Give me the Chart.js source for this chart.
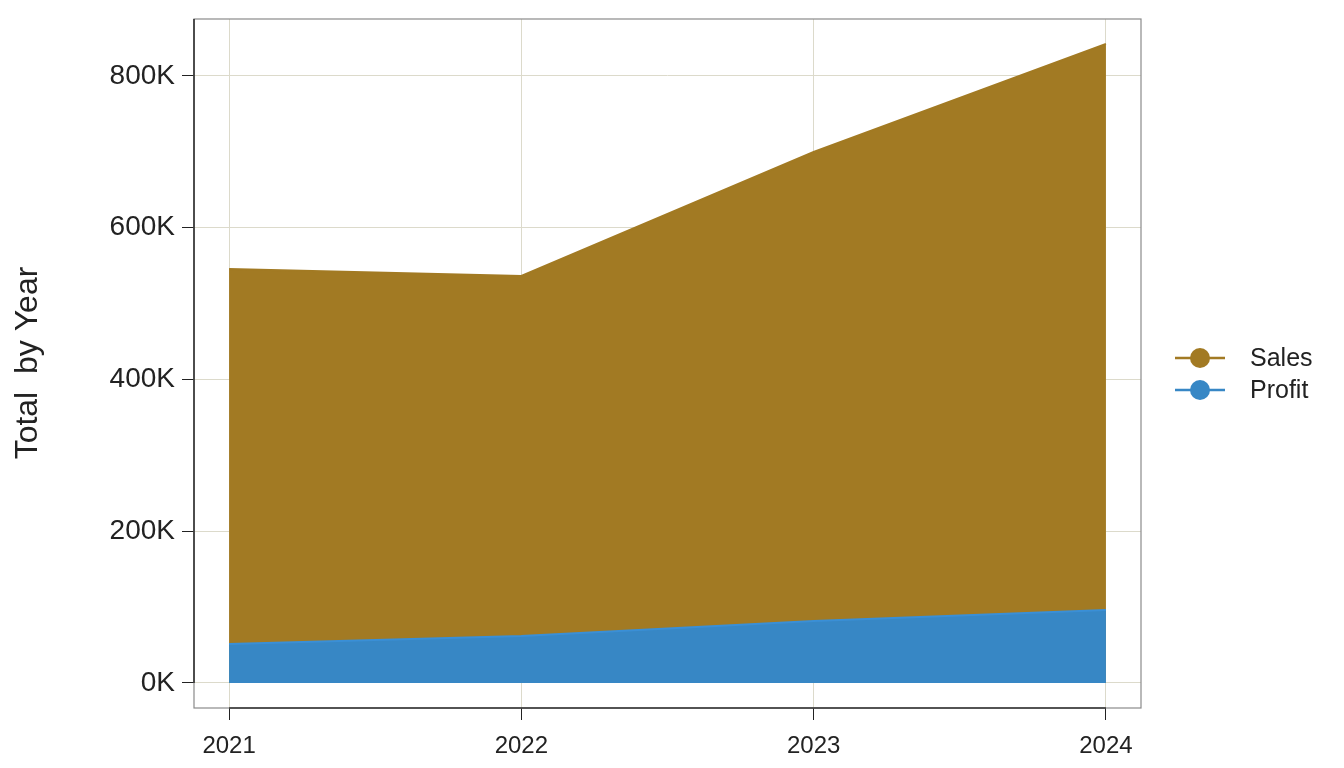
<!DOCTYPE html>
<html>
<head>
  <meta charset="UTF-8">
  <title>Total by Year</title>
  <style>
    body {
      margin: 0;
      background-color: #fff;
      overflow: hidden;
    }
    .grafica-container {
      width: 1344px;
      height: 768px;
      position: relative;
    }
  </style>
</head>
<body>
  <div class="grafica-container">
    <canvas id="grafica"></canvas>
  </div>

  <script src="https://cdn.jsdelivr.net/npm/chart.js"></script>
  <script>
    // datos
    var years = [2021, 2022, 2023, 2024];
    var sales = [545600, 536400, 699800, 842200];
    var profit = [51400, 61900, 81700, 96200];
    var yTicks = [0, 200000, 400000, 600000, 800000];

    var salesColor = '#a27a23';
    var profitColor = '#3787c5';
    var fontFam = '"Liberation Sans", Arial, sans-serif';

    function puntos(arr) {
      return years.map(function (y, i) { return { x: y, y: arr[i] }; });
    }

    // marco, ejes, leyenda y titulo del eje y
    var extras = {
      id: 'extras',
      afterDraw: function (chart) {
        var ctx = chart.ctx;
        var a = chart.chartArea;
        var xs = chart.scales.x, ys = chart.scales.y;
        ctx.save();
        ctx.strokeStyle = '#8a8a8a';
        ctx.lineWidth = 1.2;
        ctx.strokeRect(a.left, a.top, a.right - a.left, a.bottom - a.top);

        ctx.strokeStyle = '#333';
        ctx.lineWidth = 1.6;
        ctx.beginPath();
        ctx.moveTo(a.left, a.top);
        ctx.lineTo(a.left, ys.getPixelForValue(0));
        ctx.moveTo(xs.getPixelForValue(years[0]), a.bottom);
        ctx.lineTo(xs.getPixelForValue(years[years.length - 1]), a.bottom);
        ctx.stroke();

        // leyenda
        var items = [
          { label: 'Sales', color: salesColor },
          { label: 'Profit', color: profitColor }
        ];
        ctx.font = '25px ' + fontFam;
        ctx.textBaseline = 'middle';
        items.forEach(function (it, i) {
          var y = 358 + i * 32;
          ctx.strokeStyle = it.color;
          ctx.lineWidth = 2.5;
          ctx.beginPath();
          ctx.moveTo(1175, y);
          ctx.lineTo(1225, y);
          ctx.stroke();
          ctx.fillStyle = it.color;
          ctx.beginPath();
          ctx.arc(1200, y, 10, 0, Math.PI * 2);
          ctx.fill();
          ctx.fillStyle = '#222';
          ctx.textAlign = 'left';
          ctx.fillText(it.label, 1250, y + 1);
        });

        // titulo eje y
        ctx.translate(28, 363);
        ctx.rotate(-Math.PI / 2);
        ctx.textAlign = 'center';
        ctx.font = '32px ' + fontFam;
        ctx.fillStyle = '#222';
        ctx.fillText('Total  by Year', 0, 0);
        ctx.restore();
      }
    };

    var ctx = document.getElementById('grafica').getContext('2d');
    var myChart = new Chart(ctx, {
      type: 'line',
      data: {
        datasets: [{
          label: 'Sales',
          data: puntos(sales),
          backgroundColor: salesColor,
          borderColor: salesColor,
          borderWidth: 2,
          fill: 'origin',
          pointRadius: 0,
          tension: 0,
          order: 1
        }, {
          label: 'Profit',
          data: puntos(profit),
          backgroundColor: profitColor,
          borderColor: '#3a8fd6',
          borderWidth: 2,
          fill: 'origin',
          pointRadius: 0,
          tension: 0,
          order: 0
        }]
      },
      options: {
        responsive: true,
        maintainAspectRatio: false,
        animation: false,
        layout: {
          padding: { top: 19, right: 203, left: 0, bottom: 0 }
        },
        plugins: {
          legend: { display: false },
          tooltip: { enabled: false }
        },
        scales: {
          x: {
            type: 'linear',
            min: 2020.88,
            max: 2024.12,
            afterBuildTicks: function (s) {
              s.ticks = years.map(function (v) { return { value: v }; });
            },
            afterFit: function (s) {
              s.height = 60;
              s.paddingLeft = 0;
              s.paddingRight = 0;
            },
            border: { display: false },
            grid: { color: '#dcdacb', tickColor: '#222', tickLength: 12, lineWidth: 1 },
            ticks: {
              color: '#222',
              font: { size: 24, family: fontFam },
              padding: 12,
              maxRotation: 0,
              callback: function (v) { return String(v); }
            }
          },
          y: {
            min: -33000,
            max: 875000,
            afterBuildTicks: function (s) {
              s.ticks = yTicks.map(function (v) { return { value: v }; });
            },
            afterFit: function (s) {
              s.width = 194;
              s.paddingTop = 0;
              s.paddingBottom = 0;
            },
            border: { display: false },
            grid: { color: '#dcdacb', tickColor: '#222', tickLength: 12, lineWidth: 1 },
            ticks: {
              color: '#222',
              font: { size: 28, family: fontFam },
              padding: 7,
              callback: function (v) { return (v / 1000) + 'K'; }
            }
          }
        }
      },
      plugins: [extras]
    });
  </script>
</body>
</html>
